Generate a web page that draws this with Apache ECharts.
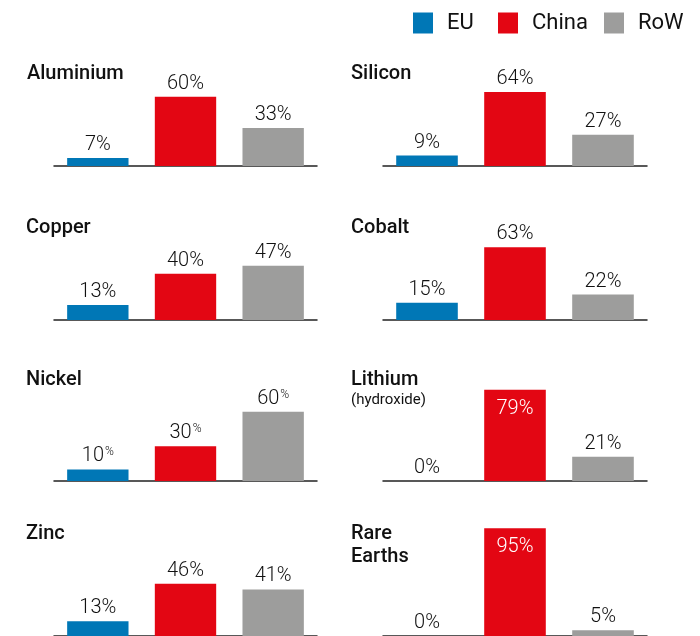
<!DOCTYPE html>
<html>
<head>
<meta charset="utf-8">
<script src="https://cdn.jsdelivr.net/npm/echarts@6/dist/echarts.min.js"></script>
<style>
html,body{margin:0;padding:0;background:#fff;}
#chart{width:700px;height:636px;}
</style>
</head>
<body>
<div id="chart"></div>
<script>
// ---- data ----
const categories = ['EU', 'China', 'RoW'];
const minerals = ['Aluminium', 'Silicon', 'Copper', 'Cobalt', 'Nickel', 'Lithium', 'Zinc', 'Rare Earths'];
const euShare = [7, 9, 13, 15, 10, 0, 13, 0];
const chinaShare = [60, 64, 40, 63, 30, 79, 46, 95];
const rowShare = [33, 27, 47, 22, 60, 21, 41, 5];

// ---- styling / layout ----
const colors = {EU: '#0077b6', China: '#e30613', RoW: '#9d9d9c'};
const FONT = 'Roboto, "Noto Sans", sans-serif';
const colLeft = [54, 383];
const colWidth = [263, 264];
const rowBase = [166, 320, 481, 638];
const plotH = 115.5;
const superscriptPanels = ['Nickel'];
const insideChinaPanels = ['Lithium', 'Rare Earths'];

const shares = [euShare, chinaShare, rowShare];
const grids = [], xAxes = [], yAxes = [], series = [];

minerals.forEach((m, i) => {
  const col = i % 2, row = Math.floor(i / 2);
  grids.push({left: colLeft[col], width: colWidth[col], top: rowBase[row] - plotH, height: plotH, containLabel: false});
  xAxes.push({
    type: 'category', gridIndex: i, data: categories,
    axisLine: {show: true, lineStyle: {color: '#222', width: 1.5}},
    axisTick: {show: false}, axisLabel: {show: false}, splitLine: {show: false}
  });
  yAxes.push({type: 'value', gridIndex: i, min: 0, max: 100, show: false, splitLine: {show: false}});
  categories.forEach((c, k) => {
    const data = categories.map((_, j) => j === k ? shares[k][i] : '-');
    const inside = c === 'China' && insideChinaPanels.includes(m);
    const sup = superscriptPanels.includes(m);
    series.push({
      type: 'bar', name: c, xAxisIndex: i, yAxisIndex: i, stack: 'p' + i,
      barCategoryGap: '30%', data: data,
      itemStyle: {color: colors[c]},
      label: {
        show: true,
        position: inside ? 'insideTop' : 'top',
        distance: inside ? 9 : 3,
        fontFamily: FONT, fontWeight: 300, fontSize: 20,
        color: inside ? '#fff' : '#111',
        formatter: sup ? (p => '{n|' + p.value + '}{p|%}') : (p => p.value + '%'),
        rich: sup ? {
          n: {fontFamily: FONT, fontWeight: 300, fontSize: 20, color: '#111'},
          p: {fontFamily: FONT, fontWeight: 300, fontSize: 12, color: '#111', verticalAlign: 'top', padding: [0, 0, 8, 1]}
        } : undefined
      }
    });
  });
});

const legendPos = [413, 498, 604];
const legends = categories.map((c, k) => ({
  data: [c], left: legendPos[k], top: 12, padding: 0, icon: 'rect', itemWidth: 20, itemHeight: 21, itemGap: 0,
  textStyle: {fontFamily: FONT, fontWeight: 400, fontSize: 22, color: '#111', padding: [0, 0, 0, 9]}
}));

const titleSpec = [
  ['Aluminium', 27, 74, 20, 500],
  ['Silicon', 351, 74, 20, 500],
  ['Copper', 26, 228, 20, 500],
  ['Cobalt', 351, 228, 20, 500],
  ['Nickel', 26, 380, 20, 500],
  ['Lithium', 351, 380, 20, 500],
  ['(hydroxide)', 351, 400, 15, 400],
  ['Zinc', 26, 534, 20, 500],
  ['Rare', 351, 534, 20, 500],
  ['Earths', 351, 557, 20, 500]
];
const graphics = titleSpec.map(t => ({
  type: 'text', x: t[1], y: t[2], silent: true,
  style: {text: t[0], fontFamily: FONT, fontWeight: t[4], fontSize: t[3], fill: '#111',
          textAlign: 'left', verticalAlign: 'middle', textVerticalAlign: 'middle'}
}));

const chart = echarts.init(document.getElementById('chart'), null, {renderer: 'canvas'});
chart.setOption({
  animation: false,
  backgroundColor: '#fff',
  legend: legends,
  grid: grids, xAxis: xAxes, yAxis: yAxes, series: series,
  graphic: graphics
});
</script>
</body>
</html>
